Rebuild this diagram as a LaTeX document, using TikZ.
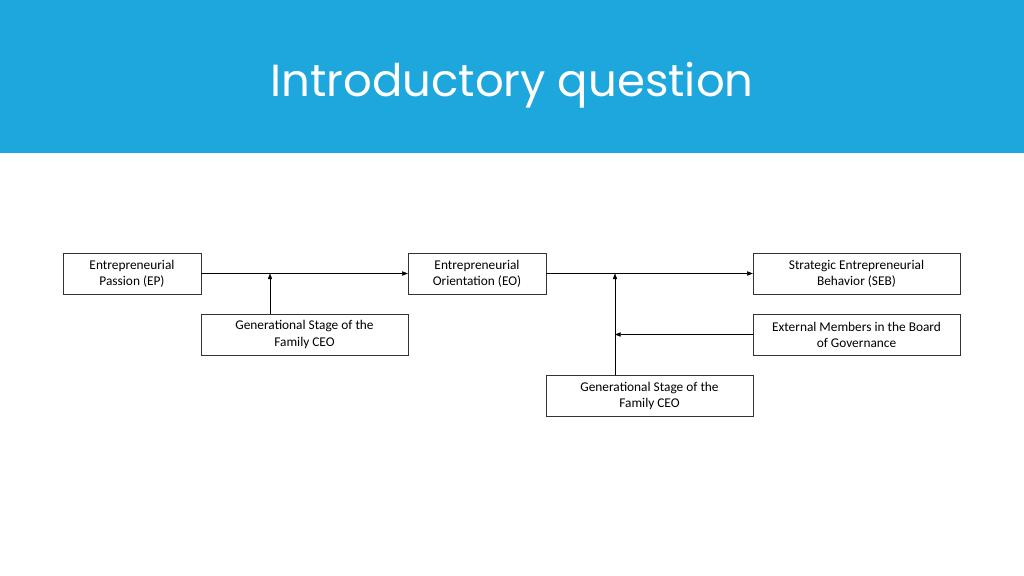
\documentclass[tikz,border=0pt]{standalone}
\usepackage{fontspec}
\setmainfont{Carlito}
\newfontfamily\titlefont{Poppins}
\usetikzlibrary{arrows.meta}
\definecolor{band}{HTML}{1EA7DD}
\begin{document}
\begin{tikzpicture}[x=0.05cm,y=-0.05cm,
  box/.style={draw=black!80,line width=0.6pt,minimum width=10.35cm,minimum height=2.05cm,align=center,inner sep=0pt,font=\fontsize{19}{23}\selectfont},
  wide/.style={box,minimum width=10.35cm},
  narrow/.style={box,minimum width=6.9cm},
  arr/.style={line width=0.6pt,-{Triangle[length=8pt,width=6pt]}}]
\useasboundingbox (0,0) rectangle (1024,576);
\fill[band] (0,0) rectangle (1024,153);
\node[text=white,font=\titlefont\fontsize{64}{70}\selectfont] (title) at (512,85) {Introductory question};
\node[narrow] (ep) at (132,273.5) {Entrepreneurial\\Passion (EP)};
\node[narrow] (eo) at (477,273.5) {Entrepreneurial\\Orientation (EO)};
\node[wide] (seb) at (856.5,273.5) {Strategic Entrepreneurial\\Behavior (SEB)};
\node[wide] (g1) at (304.5,334.5) {Generational Stage of the\\Family CEO};
\node[wide] (ext) at (856.5,334.5) {External Members in the Board\\of Governance};
\node[wide] (g2) at (649.5,396) {Generational Stage of the\\Family CEO};
\coordinate (m1) at (270,273.5);
\coordinate (m2) at (615,273.5);
\coordinate (m3) at (615,334.5);
\draw[arr] (ep) -- (eo);
\draw[arr] (eo) -- (seb);
\draw[arr] (g1.north -| m1) -- (m1);
\draw[arr] (g2.north -| m2) -- (m2);
\draw[arr] (ext) -- (m3);
\end{tikzpicture}
\end{document}
